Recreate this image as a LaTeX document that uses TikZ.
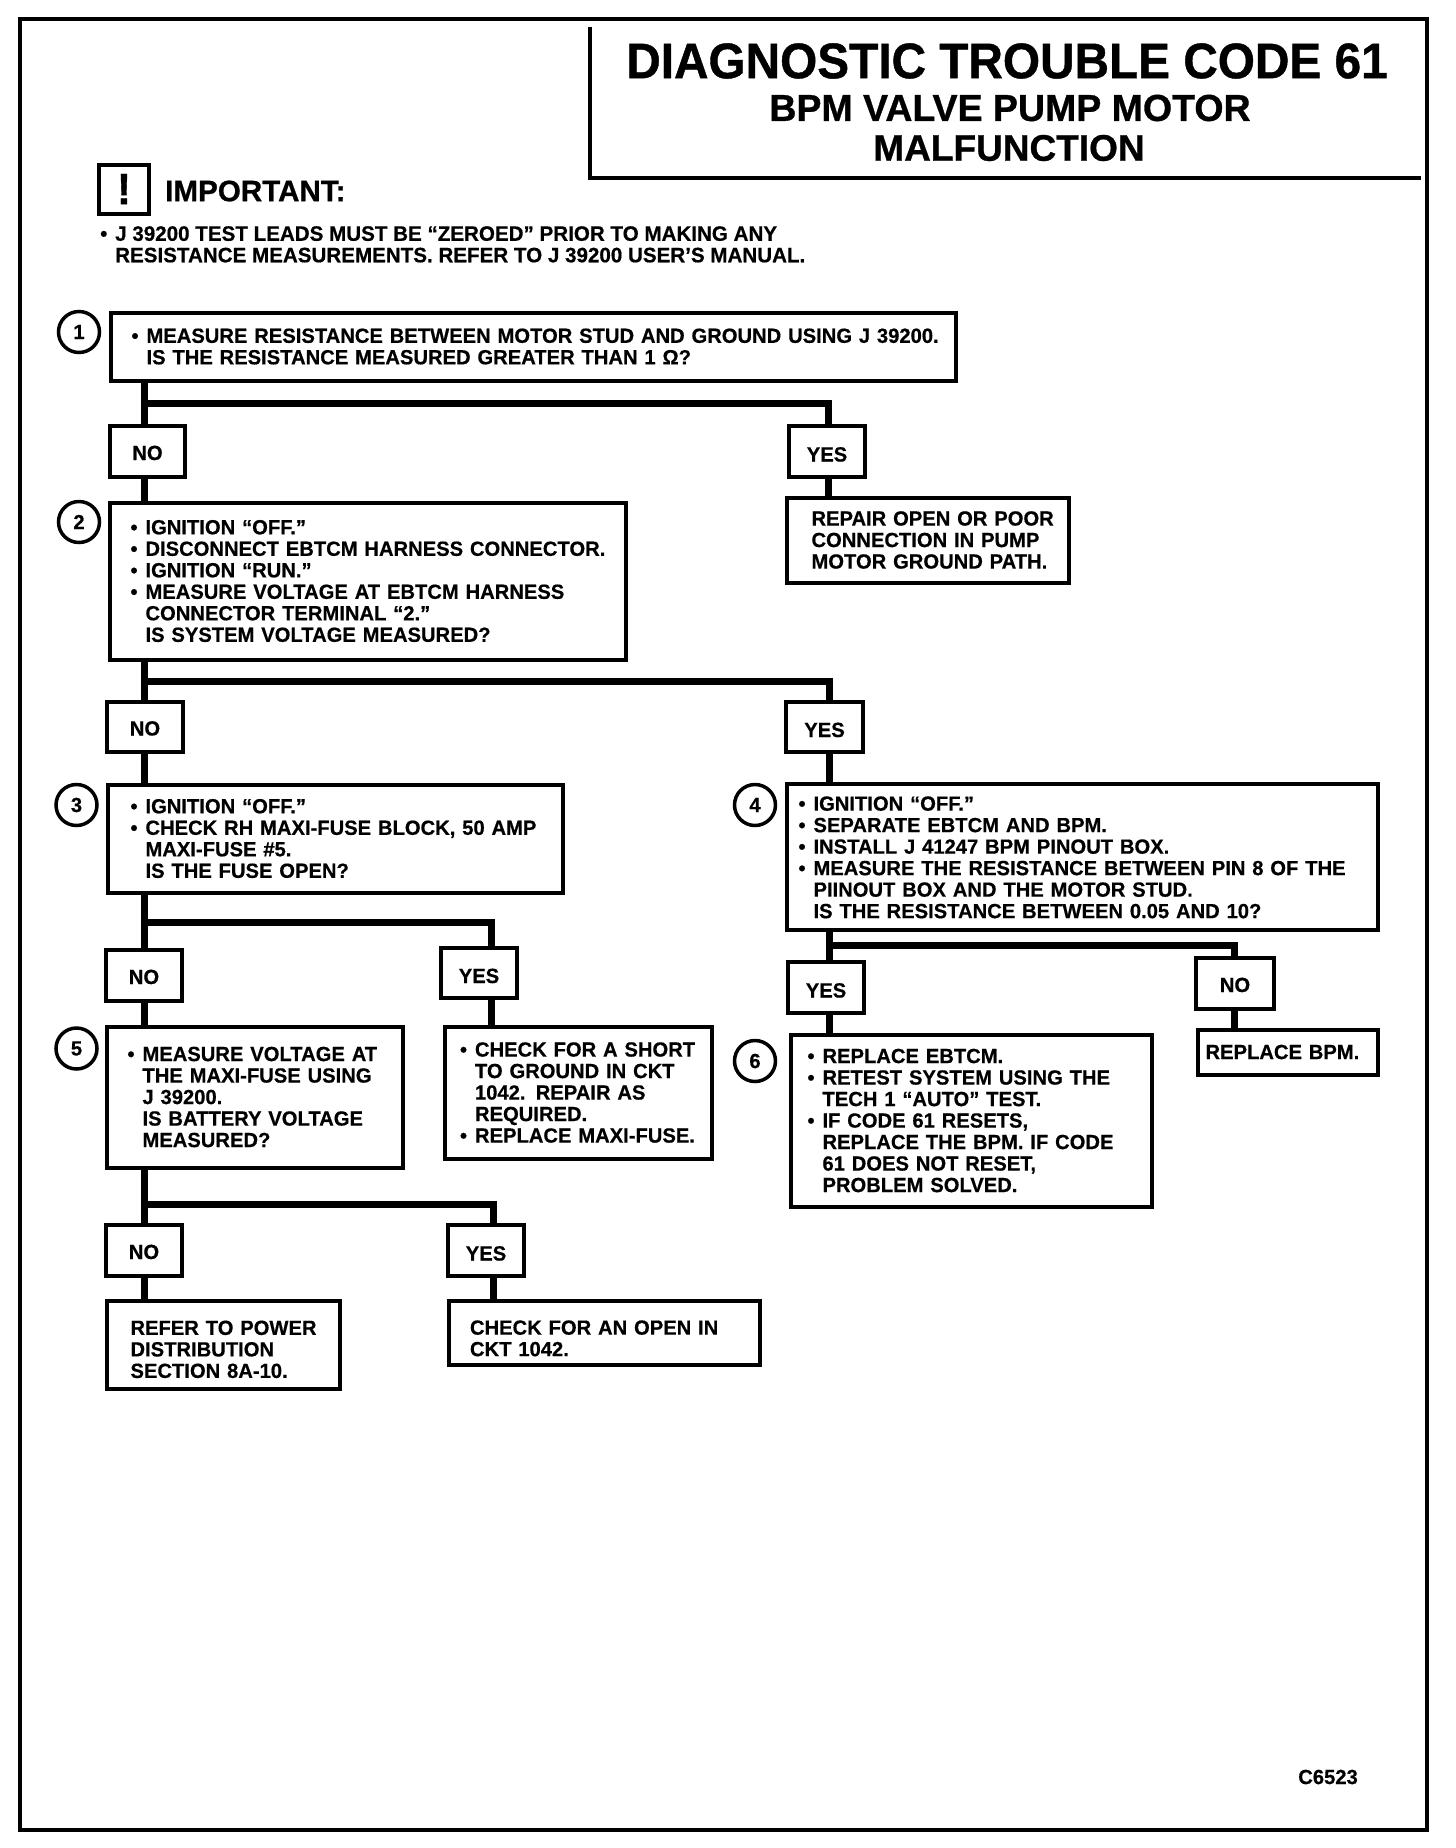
\documentclass[tikz,border=0pt]{standalone}
\usepackage{fontspec}
\usetikzlibrary{positioning}
\newfontfamily\bodyfont{Liberation Sans}[FakeStretch=0.985,FakeBold=0.5]
\newfontfamily\headfont{Liberation Sans}[FakeStretch=0.955,FakeBold=0.8]
\newfontfamily\subfont{Liberation Sans}[FakeStretch=1.0,FakeBold=0.8]
\newcommand{\bul}{\makebox[15pt][l]{\textbullet}}
\newcommand{\ind}{\hspace*{15pt}}
\newcommand{\tyes}{\rule{0pt}{21pt}YES}
\newcommand{\tno}{\rule{0pt}{18pt}NO}
\tikzset{txt/.style={font=\bodyfont\bfseries\fontsize{20.5}{21.5}\selectfont}}
\tikzset{tbox/.style n args={3}{txt,draw,line width=4pt,anchor=north west,xshift=-1.5pt,yshift=1.5pt,align=left,inner ysep=0pt,inner xsep=#3pt,text width=#1pt-2*#3pt+1pt,minimum width=#1pt+3pt,minimum height=#2pt+3pt}}
\tikzset{tag/.style 2 args={txt,draw,line width=4pt,anchor=north west,xshift=-2pt,yshift=2.4pt,inner sep=0pt,minimum width=#1pt+3pt,minimum height=#2pt+3pt}}
\tikzset{num/.style={txt,draw,circle,line width=3.5pt,inner sep=0pt,minimum size=41pt}}
\tikzset{wire/.style={line width=7pt}}

\begin{document}
\begin{tikzpicture}[x=1pt, y=-1pt]
        \useasboundingbox (0,0) rectangle (1456,1848);
        \draw[line width=4.5pt] (20,19) rectangle (1427,1830);
        \draw[line width=3.5pt] (590,27) -- (590,178) -- (1421,178);
        \node[font=\headfont\bfseries\fontsize{50}{50}\selectfont] (Title1) at (1007,61) {DIAGNOSTIC TROUBLE CODE 61};
        \node[font=\subfont\bfseries\fontsize{37.5}{38}\selectfont] (Title2) at (1010,108) {BPM VALVE PUMP MOTOR};
        \node[font=\subfont\bfseries\fontsize{37}{38}\selectfont] (Title3) at (1009,148) {MALFUNCTION};
        \node[tag={47}{46},font=\headfont\bfseries\fontsize{44}{44}\selectfont] (Warn) at (99,165) {!};
        \node[font=\subfont\bfseries\fontsize{29.6}{30}\selectfont, anchor=west, inner sep=0pt] (Imp) at (165,191) {IMPORTANT:};
        \node[font=\bodyfont\bfseries\fontsize{20.9}{21.5}\selectfont, anchor=north west, align=left, inner sep=0pt] (Note) at (100,226) {\bul J 39200 TEST LEADS MUST BE “ZEROED” PRIOR TO MAKING ANY\\\ind RESISTANCE MEASUREMENTS. REFER TO J 39200 USER’S MANUAL.};

        \node[tbox={842}{65}{20}] (Q1) at (110,312) {\mbox{\bul MEASURE RESISTANCE BETWEEN MOTOR STUD AND GROUND USING J 39200.}\\\ind IS THE RESISTANCE MEASURED GREATER THAN 1 Ω?};
        \node[num] (N1) at (79,332) {1};
        \node[tag={72}{48}] (No1) at (110,426) {\tno};
        \node[tag={73}{48}] (Yes1) at (789,426) {\tyes};
        \node[tbox={279}{82}{24}] (R1) at (786,497) {\mbox{REPAIR OPEN OR POOR}\\\mbox{CONNECTION IN PUMP}\\\mbox{MOTOR GROUND PATH.}};

        \node[tbox={513}{154}{20}] (Q2) at (109,502) {\bul IGNITION “OFF.”\\\mbox{\bul DISCONNECT EBTCM HARNESS CONNECTOR.}\\\bul IGNITION “RUN.”\\\bul MEASURE VOLTAGE AT EBTCM HARNESS\\\ind CONNECTOR TERMINAL “2.”\\\ind IS SYSTEM VOLTAGE MEASURED?};
        \node[num] (N2) at (79,522) {2};
        \node[tag={73}{47}] (No2) at (107,702) {\tno};
        \node[tag={74}{47}] (Yes2) at (786,702) {\tyes};

        \node[tbox={452}{105}{22}] (Q3) at (107,784) {\bul IGNITION “OFF.”\\\mbox{\bul CHECK RH MAXI-FUSE BLOCK, 50 AMP}\\\ind MAXI-FUSE \#5.\\\ind IS THE FUSE OPEN?};
        \node[num] (N3) at (76.5,805) {3};
        \node[tbox={588}{143}{11}] (Q4) at (786,783) {\rule{0pt}{16pt}\bul IGNITION “OFF.”\\\bul SEPARATE EBTCM AND BPM.\\\bul INSTALL J 41247 BPM PINOUT BOX.\\\mbox{\bul MEASURE THE RESISTANCE BETWEEN PIN 8 OF THE}\\\ind PIINOUT BOX AND THE MOTOR STUD.\\\ind IS THE RESISTANCE BETWEEN 0.05 AND 10?};
        \node[num] (N4) at (755,805) {4};

        \node[tag={73}{48}] (No3) at (106,950) {\tno};
        \node[tag={73}{47}] (Yes3) at (441,948) {\tyes};
        \node[tbox={293}{138}{20}] (Q5) at (106,1026) {\mbox{\bul MEASURE VOLTAGE AT}\\\mbox{\ind THE MAXI-FUSE USING}\\\ind J 39200.\\\mbox{\ind IS BATTERY VOLTAGE}\\\ind MEASURED?};
        \node[num] (N5) at (76.5,1048.5) {5};
        \node[tbox={264}{129}{14.5}] (R3) at (444,1026) {\mbox{\bul CHECK FOR A SHORT}\\\mbox{\ind TO GROUND IN CKT}\\\ind 1042. REPAIR AS\\\ind REQUIRED.\\\mbox{\bul REPLACE MAXI-FUSE.}};

        \node[tag={73}{48}] (Yes4) at (788,962) {\tyes};
        \node[tag={75}{48}] (No4) at (1196,958) {\tno};
        \node[tbox={358}{169}{16}] (Q6) at (790,1034) {\bul REPLACE EBTCM.\\\mbox{\bul RETEST SYSTEM USING THE}\\\ind TECH 1 “AUTO” TEST.\\\bul IF CODE 61 RESETS,\\\mbox{\ind REPLACE THE BPM. IF CODE}\\\ind 61 DOES NOT RESET,\\\ind PROBLEM SOLVED.};
        \node[num] (N6) at (755,1061) {6};
        \node[tbox={177}{42}{7}] (R4) at (1197,1029) {\mbox{REPLACE BPM.}};

        \node[tag={73}{48}] (No5) at (106,1225) {\tno};
        \node[tag={73}{48}] (Yes5) at (448,1225) {\tyes};
        \node[tbox={230}{85}{23}] (R5) at (106,1300) {\rule{0pt}{24pt}\mbox{REFER TO POWER}\\\mbox{DISTRIBUTION}\\\mbox{SECTION 8A-10.}};
        \node[tbox={308}{61}{20.5}] (R6) at (448,1300) {\rule{0pt}{26pt}\mbox{CHECK FOR AN OPEN IN}\\CKT 1042.};
        \node[txt, anchor=east, inner sep=0pt] (Fig) at (1358,1777) {C6523};

        \coordinate (J1) at (144,403);
        \coordinate (K1) at (828,403);
        \coordinate (J2) at (144,681);
        \coordinate (K2) at (829,681);
        \coordinate (J3) at (144,922);
        \coordinate (K3) at (491,922);
        \coordinate (J4) at (829,945);
        \coordinate (K4) at (1234,945);
        \coordinate (J5) at (144,1204);
        \coordinate (K5) at (493,1204);

        \draw[wire] (J1 |- Q1.south) -- (J1 |- No1.north);
        \draw[wire] (J1 |- No1.south) -- (J1 |- Q2.north);
        \draw[wire] (J1) -- (K1) -- (K1 |- Yes1.north);
        \draw[wire] (K1 |- Yes1.south) -- (K1 |- R1.north);
        \draw[wire] (J2 |- Q2.south) -- (J2 |- No2.north);
        \draw[wire] (J2 |- No2.south) -- (J2 |- Q3.north);
        \draw[wire] (J2) -- (K2) -- (K2 |- Yes2.north);
        \draw[wire] (K2 |- Yes2.south) -- (K2 |- Q4.north);
        \draw[wire] (J3 |- Q3.south) -- (J3 |- No3.north);
        \draw[wire] (J3 |- No3.south) -- (J3 |- Q5.north);
        \draw[wire] (J3) -- (K3) -- (K3 |- Yes3.north);
        \draw[wire] (K3 |- Yes3.south) -- (K3 |- R3.north);
        \draw[wire] (J4 |- Q4.south) -- (J4 |- Yes4.north);
        \draw[wire] (J4 |- Yes4.south) -- (J4 |- Q6.north);
        \draw[wire] (J4) -- (K4) -- (K4 |- No4.north);
        \draw[wire] (K4 |- No4.south) -- (K4 |- R4.north);
        \draw[wire] (J5 |- Q5.south) -- (J5 |- No5.north);
        \draw[wire] (J5 |- No5.south) -- (J5 |- R5.north);
        \draw[wire] (J5) -- (K5) -- (K5 |- Yes5.north);
        \draw[wire] (K5 |- Yes5.south) -- (K5 |- R6.north);
    \end{tikzpicture}
\end{document}
